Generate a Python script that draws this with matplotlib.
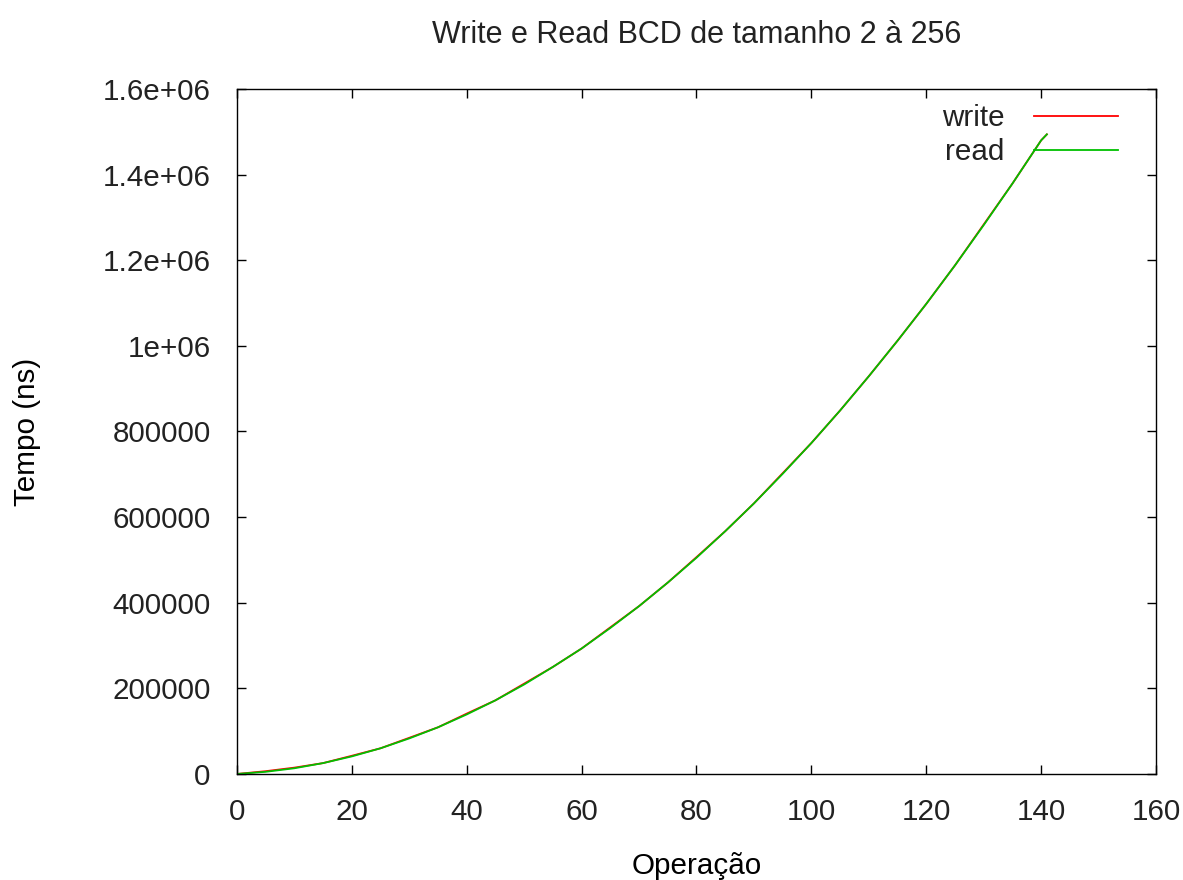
import matplotlib
matplotlib.use("Agg")
import matplotlib.pyplot as plt

# operation index vs elapsed time (ns) for BCD write/read, sizes 2..256
operacao = [0, 5, 10, 15, 20, 25, 30, 35, 40, 45, 50, 55, 60, 65, 70,
            75, 80, 85, 90, 95, 100, 105, 110, 115, 120, 125, 130, 135,
            140, 141]
read_ns = [0, 5000, 13300, 25400, 41000, 60000, 83000, 109000, 139000,
           172000, 209000, 250000, 293000, 341000, 392000, 447000,
           505000, 567000, 632000, 701000, 773000, 849000, 929000,
           1012000, 1098000, 1188000, 1282000, 1379000, 1480000, 1494000]
write_ns = [0, 6500, 14800, 25400, 42500, 60000, 84500, 109000, 141000,
            172000, 211000, 250000, 293000, 342500, 392000, 447000,
            506500, 567000, 632000, 702500, 773000, 849000, 929000,
            1012000, 1098000, 1188000, 1283500, 1379000, 1480000, 1494000]

plt.rcParams["font.family"] = ["Liberation Sans", "DejaVu Sans"]
plt.rcParams["text.color"] = "#222222"
fs = 21.3

fig = plt.figure(figsize=(11.83, 8.80), dpi=100)
ax = fig.add_axes([0.2003, 0.1205, 0.7769, 0.7784])

ax.plot(operacao, write_ns, color="#ff0000", lw=1.3, label="write")
ax.plot(operacao, read_ns, color="#00c000", lw=1.3, label="read")

ax.set_xlim(0, 160)
ax.set_ylim(0, 1.6e6)
ax.set_xticks(range(0, 161, 20))
yt = [i * 200000 for i in range(9)]
ax.set_yticks(yt)
ax.set_yticklabels(["0", "200000", "400000", "600000", "800000", "1e+06",
                    "1.2e+06", "1.4e+06", "1.6e+06"])
ax.tick_params(direction="in", length=6.5, width=1, labelsize=fs,
               labelcolor="#222222", top=True, right=True)
ax.tick_params(axis="x", pad=17)
ax.tick_params(axis="y", pad=19)
for s in ax.spines.values():
    s.set_linewidth(1)

ax.set_title("Write e Read BCD de tamanho 2 à 256", fontsize=22, pad=33)
ax.set_xlabel("Operação", fontsize=fs, labelpad=19)
ax.set_ylabel("Tempo (ns)", fontsize=fs, labelpad=44)

ax.legend(loc="upper right", bbox_to_anchor=(0.9587, 0.9775),
          frameon=False, markerfirst=False, fontsize=fs,
          handlelength=2.85, handletextpad=1.0, labelspacing=0.2,
          borderaxespad=0, borderpad=0)

fig.savefig("out.png", dpi=100)
